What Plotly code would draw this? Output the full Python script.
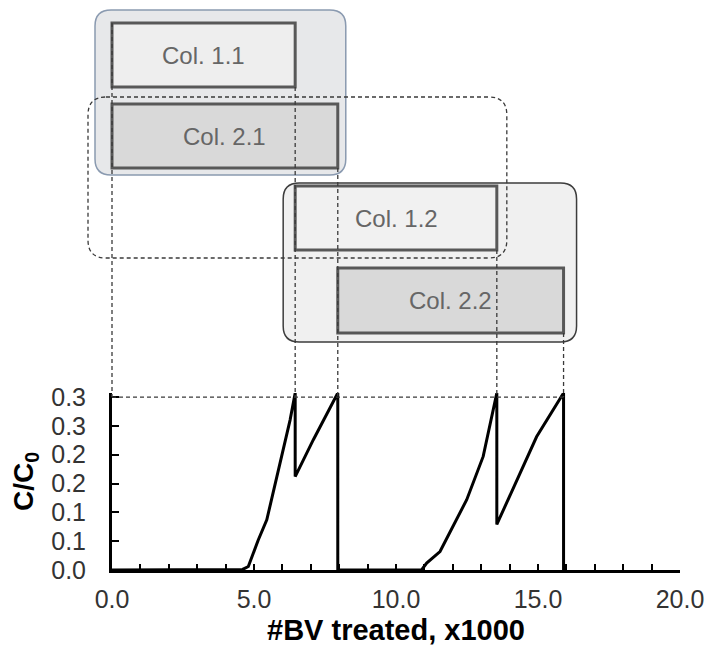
import plotly.graph_objects as go

# ---------------- data ----------------
bv_treated = [0, 4.4, 4.6, 4.8, 5.15, 5.45, 5.97, 6.27, 6.45, 6.45, 7.09, 7.95, 7.95,
              10.9, 11.08, 11.55, 12.49, 13.07, 13.55, 13.55, 14.95, 15.9, 15.9]
c_over_c0 = [0, 0, 0.001, 0.006, 0.052, 0.087, 0.197, 0.26, 0.307, 0.162, 0.226, 0.307, 0,
             0, 0.012, 0.032, 0.122, 0.197, 0.307, 0.079, 0.231, 0.307, 0]

columns = ["Col. 1.1", "Col. 2.1", "Col. 1.2", "Col. 2.2"]
col_start = [0, 0, 6.45, 7.95]
col_end = [6.45, 7.95, 13.55, 15.9]
threshold = 0.3

y_tickvals = [0, 0.05, 0.10, 0.15, 0.20, 0.25, 0.30]
y_ticktext = ["0.0", "0.1", "0.1", "0.2", "0.2", "0.3", "0.3"]

# ---------------- layout geometry ----------------
W, H = 707, 654
PL, PR, PT, PB = 112, 680, 393, 570          # plot area in pixels
X_RANGE = [0, 20]
Y_RANGE = [0, 0.307]

def fx(px):
    return X_RANGE[0] + (px - PL) / (PR - PL) * (X_RANGE[1] - X_RANGE[0])

def fy(py):
    return Y_RANGE[0] + (PB - py) / (PB - PT) * (Y_RANGE[1] - Y_RANGE[0])

DX = (X_RANGE[1] - X_RANGE[0]) / (PR - PL)     # data units per px
DY = (Y_RANGE[1] - Y_RANGE[0]) / (PB - PT)

FONT = "Liberation Sans, Arial, sans-serif"
DASH = dict(color="#3a3a3a", width=1.3, dash="4px,3px")

# box rows (pixel top / bottom) and styles
row_px = [(23, 87), (104, 168), (186, 250), (268, 333)]
col_fill = ["#eeeeee", "#d9d9d9", "#f1f1f1", "#d9d9d9"]

def rrect(x0, x1, ytop_px, ybot_px, rpx):
    y1, y0 = fy(ytop_px), fy(ybot_px)
    rx, ry = rpx * DX, rpx * DY
    return (f"M{x0+rx},{y1} L{x1-rx},{y1} Q{x1},{y1} {x1},{y1-ry} "
            f"L{x1},{y0+ry} Q{x1},{y0} {x1-rx},{y0} L{x0+rx},{y0} "
            f"Q{x0},{y0} {x0},{y0+ry} L{x0},{y1-ry} Q{x0},{y1} {x0+rx},{y1} Z")

fig = go.Figure()

fig.add_trace(go.Scatter(
    x=bv_treated, y=c_over_c0, mode="lines",
    line=dict(color="black", width=3), showlegend=False, hoverinfo="skip",
    cliponaxis=False,
))
# overlay canvas subplot with identical scales covering whole figure
fig.add_trace(go.Scatter(x=[None], y=[None], xaxis="x2", yaxis="y2",
                         showlegend=False, hoverinfo="skip"))

shapes = []
ref = dict(xref="x2", yref="y2")

# group boxes
shapes.append(dict(type="path", path=rrect(col_start[0] - 17 * DX, col_end[1] + 8 * DX, 10, 175, 16),
                   fillcolor="#e7e8ea", line=dict(color="#8a9ab0", width=1.5), layer="above", **ref))
shapes.append(dict(type="path", path=rrect(col_start[2] - 12 * DX, col_end[3] + 13 * DX, 183, 342, 16),
                   fillcolor="#f0f0f0", line=dict(color="#3c3c3c", width=1.5), layer="above", **ref))
# dashed group
shapes.append(dict(type="path", path=rrect(col_start[1] - 24 * DX, col_end[2] + 10 * DX, 97, 258, 18),
                   fillcolor="rgba(0,0,0,0)", line=DASH, layer="above", **ref))
# column boxes
for i, name in enumerate(columns):
    top, bot = row_px[i]
    shapes.append(dict(type="rect", x0=col_start[i], x1=col_end[i], y0=fy(bot), y1=fy(top),
                       fillcolor=col_fill[i], line=dict(color="#585858", width=3),
                       layer="above", **ref))
# vertical dashed connectors
shapes.append(dict(type="line", x0=col_start[0], x1=col_start[0], y0=fy(row_px[0][0]), y1=threshold,
                   line=DASH, layer="above", **ref))
for i in range(len(columns)):
    top, bot = row_px[i]
    shapes.append(dict(type="line", x0=col_end[i], x1=col_end[i], y0=fy(bot), y1=threshold,
                       line=DASH, layer="above", **ref))
# horizontal threshold line
shapes.append(dict(type="line", x0=0, x1=max(col_end), y0=threshold, y1=threshold,
                   line=DASH, layer="above", **ref))

annotations = []
for i, name in enumerate(columns):
    top, bot = row_px[i]
    annotations.append(dict(x=(col_start[i] + col_end[i]) / 2, y=fy((top + bot) / 2),
                            xref="x2", yref="y2", text=name, showarrow=False,
                            font=dict(family=FONT, size=24, color="#666666")))

fig.update_layout(
    width=W, height=H, autosize=False,
    margin=dict(l=0, r=0, t=0, b=0, autoexpand=False),
    paper_bgcolor="white", plot_bgcolor="rgba(0,0,0,0)",
    font=dict(family=FONT, size=25, color="#333333"),
    shapes=shapes, annotations=annotations,
    xaxis=dict(
        domain=[PL / W, PR / W], range=X_RANGE, anchor="y", automargin=False,
        showgrid=False, zeroline=False,
        showline=True, linecolor="black", linewidth=2.5,
        ticks="inside", ticklen=6, tickwidth=2, tickcolor="black",
        dtick=5, tick0=0, tickformat=".1f", ticklabelstandoff=5,
        minor=dict(dtick=1, ticks="inside", ticklen=6, tickwidth=2, tickcolor="black"),
        tickfont=dict(family=FONT, size=25, color="#333333"),
        title=dict(text="<b>#BV treated, x1000</b>", standoff=8,
                   font=dict(family=FONT, size=29, color="black")),
        fixedrange=True,
    ),
    yaxis=dict(
        domain=[(H - PB) / H, (H - PT) / H], range=Y_RANGE, anchor="x", automargin=False,
        showgrid=False, zeroline=False,
        showline=True, linecolor="black", linewidth=3,
        ticks="inside", ticklen=7, tickwidth=2, tickcolor="black",
        tickvals=y_tickvals, ticktext=y_ticktext, ticklabelstandoff=18,
        tickfont=dict(family=FONT, size=25, color="#333333"),
        title=dict(text="<b>C/C<sub>0</sub></b>", standoff=10,
                   font=dict(family=FONT, size=28, color="black")),
        fixedrange=True,
    ),
    xaxis2=dict(domain=[0, 1], range=[fx(0), fx(W)], anchor="y2", visible=False,
                automargin=False, fixedrange=True),
    yaxis2=dict(domain=[0, 1], range=[fy(H), fy(0)], anchor="x2", visible=False,
                automargin=False, fixedrange=True),
)

fig.write_html("out.html")
